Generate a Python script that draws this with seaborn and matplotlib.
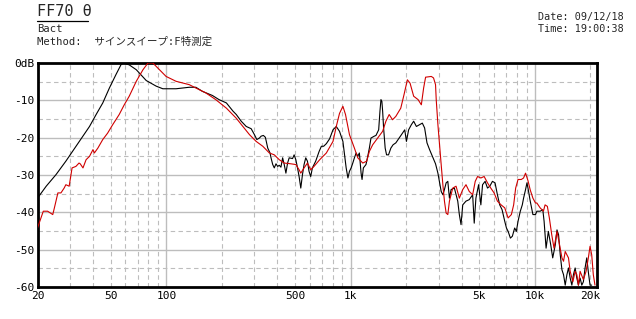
import matplotlib
matplotlib.use("Agg")
import matplotlib.pyplot as plt
from matplotlib.lines import Line2D
import seaborn as sns
import pandas as pd

# ---------------- data ----------------
black_freq = [20, 22.3, 25.2, 28.5, 29.7, 32.4, 35.3, 38.3, 41.6, 45.2, 49.1, 53.3, 56.7, 58.3,
              62.9, 68.7, 77.8, 88.1, 95.7, 112.9, 133.1, 144.6, 157, 177.8, 193, 211.8, 230,
              239.6, 254.9, 271.3, 288.6, 300.6, 309.7, 319.9, 326.7, 336.1, 344.6, 355, 365.2,
              369.8, 377.7, 385.2, 393.4, 401.8, 409.8, 418.5, 427.5, 436.1, 445.3, 454.8, 464,
              483.9, 493.6, 504.1, 514.9, 525.1, 536.3, 547.7, 558.7, 570.6, 582.8, 594.4, 607,
              620, 646, 674.3, 693.7, 713.8, 738.1, 768.9, 802, 835.5, 870, 907.7, 926.6, 945.4,
              966.4, 985.2, 1006, 1027, 1048, 1071, 1093, 1115, 1139, 1153, 1172, 1211, 1238,
              1263, 1289, 1343, 1372, 1419, 1442, 1460, 1477, 1491, 1509, 1539, 1566, 1605, 1652,
              1699, 1758, 1831, 1910, 1965, 2007, 2063, 2136, 2197, 2273, 2368, 2448, 2519, 2595,
              2680, 2796, 2887, 2974, 3098, 3164, 3227, 3296, 3366, 3434, 3507, 3653, 3811, 3887,
              3970, 4055, 4224, 4399, 4590, 4681, 4781, 4944, 5086, 5195, 5364, 5526, 5687, 5879,
              6071, 6255, 6437, 6630, 6854, 7002, 7149, 7356, 7539, 7758, 7924, 8092, 8325, 8534,
              8672, 8889, 9046, 9193, 9424, 9744, 10062, 10238, 10664, 11026, 11206, 11486, 11818,
              12174, 12480, 12888, 13163, 13426, 13712, 14003, 14285, 14589, 14900, 15197, 15521,
              15852, 16169, 16514, 16865, 17203, 17570, 17945, 18304, 18694, 19093, 19476, 19891,
              20314]
black_db = [-36.2, -33, -29.9, -26.3, -25, -22.3, -19.6, -17, -13.8, -10.7, -6.7, -3.1, -0.5, 0,
            -0.5, -1.8, -4.7, -6.2, -6.9, -6.9, -6.5, -6.5, -7.6, -8.7, -9.8, -10.7, -12.9,
            -13.8, -15.6, -17, -17.6, -19.2, -20.5, -20.1, -19.6, -19.4, -19.9, -22.8, -24.1,
            -25.4, -27.2, -28.1, -27, -27.7, -27.4, -27.9, -25.4, -27.2, -29.5, -26.8, -25.4,
            -25.6, -24.6, -25.9, -28.1, -30.4, -33.5, -29.9, -27.2, -25.4, -26.3, -29, -30.4,
            -28.1, -26.3, -23.7, -22.3, -22.3, -21.6, -20.3, -17.9, -17, -18.3, -21, -24.6,
            -28.1, -30.8, -29, -28.1, -26.8, -25.4, -24.1, -25, -24.1, -29.5, -31.2, -28.1,
            -27.2, -25, -22.8, -20.1, -19.6, -19.4, -17.9, -12.9, -9.8, -10.3, -12.9, -17.4,
            -22.8, -24.6, -24.6, -22.8, -21.9, -21.4, -20.1, -18.8, -17.9, -21, -17.9, -16.5,
            -15.6, -17, -16.5, -16.1, -17.4, -21.4, -23.2, -25.4, -27, -29.5, -34.4, -35.3,
            -33.9, -32.1, -31.7, -36.2, -33.9, -33.5, -37, -40.6, -43.3, -38, -37, -36.6, -35.3,
            -42.9, -36.2, -32.6, -38, -32.6, -31.7, -33.5, -33, -31.7, -32.1, -35.3, -38, -39.3,
            -42.4, -44.2, -45.1, -46.9, -46.4, -44.2, -45.1, -42.4, -39.7, -38, -36.2, -33.9,
            -32.1, -33.9, -37, -40.6, -40.6, -39.7, -39.7, -39.3, -42.4, -49.6, -45.1, -48.7,
            -52.2, -48.7, -44.7, -46, -51.4, -55.4, -56.7, -59.5, -56.7, -54.9, -57.6, -59.5,
            -56.7, -54.9, -57.6, -59.5, -57.6, -59.5, -58.6, -54.9, -52.2, -56, -59.5, -59.5]

red_freq = [20, 20.9, 21.5, 22.7, 24.2, 24.7, 25.8, 26.8, 27.9, 28.5, 29.7, 30.8, 32.3, 33.6,
            34.1, 35.3, 36.7, 38.3, 40, 40.7, 42.5, 45.2, 48, 51.2, 55.5, 59.1, 62.9, 67.3,
            68.7, 74.7, 79.5, 84.5, 91.8, 99.7, 112.9, 133.1, 144.6, 163.6, 185.3, 211.8, 239.6,
            260.4, 282.6, 307.1, 333.6, 362.1, 385.2, 409.8, 436.1, 473.8, 504.1, 525.1, 536.3,
            558.7, 582.8, 607, 632.5, 679.3, 738.1, 802, 835.5, 870, 907.7, 937.7, 985.2, 1048,
            1093, 1163, 1222, 1263, 1317, 1401, 1491, 1553, 1618, 1687, 1758, 1870, 1947, 2031,
            2100, 2197, 2321, 2418, 2488, 2550, 2738, 2816, 2887, 2912, 2974, 3034, 3098, 3164,
            3227, 3296, 3366, 3434, 3581, 3731, 3887, 4055, 4224, 4399, 4590, 4740, 4882, 5086,
            5299, 5526, 5756, 6000, 6255, 6548, 6854, 7149, 7445, 7661, 7856, 8092, 8429, 8672,
            8889, 9160, 9424, 9744, 10062, 10238, 10664, 11110, 11343, 11673, 11966, 12328,
            12684, 13163, 13593, 14003, 14285, 14589, 15197, 15521, 16052, 16514, 16865, 17203,
            17570, 18304, 18930, 19476, 19891, 20314, 20722, 21162]
red_db = [-44.2, -41.5, -39.7, -39.7, -40.6, -38.8, -34.8, -34.8, -33.5, -32.6, -33, -28.1,
          -27.7, -26.8, -27, -28.1, -25.9, -25, -23.2, -24.1, -22.8, -20.5, -18.8, -16.5, -13.8,
          -11.2, -8.9, -5.8, -4.9, -1.8, 0, 0, -1.8, -3.6, -4.9, -5.8, -6.7, -8, -9.8, -12.1,
          -14.8, -17, -19.2, -21, -22.3, -24.1, -24.6, -25.9, -26.8, -27, -27.2, -28.6, -29.5,
          -28.1, -26.8, -28.6, -27.7, -25.9, -24.1, -21, -17, -13.5, -11.6, -13.8, -19.2,
          -22.8, -25.4, -26.8, -26.3, -23.7, -21.9, -20.1, -18.3, -15.6, -13.8, -15.2, -14.3,
          -12.1, -8.5, -4.5, -5.4, -8.9, -9.8, -11.2, -6.7, -3.8, -3.6, -4, -5.8, -9.8, -16.5,
          -21.9, -27.2, -32.6, -37, -40.2, -40.6, -37, -33.5, -33, -36.2, -33.9, -32.6, -34.4,
          -35.3, -31.7, -30.4, -30.8, -30.4, -32.1, -33.5, -34.8, -37, -38, -38.8, -41.5,
          -40.6, -38, -33.5, -31.2, -31.2, -30.8, -29.5, -31.5, -34, -36.2, -37.5, -37.5,
          -38.8, -39.7, -38, -38.4, -41.5, -46, -49.6, -45.1, -48.7, -52.2, -53.1, -50.5,
          -52.2, -55.8, -58.6, -55.8, -56.7, -59.5, -55.8, -58, -55.8, -52.2, -49.1, -51.4,
          -56.7, -59.5]

x_tick_vals = [20, 50, 100, 500, 1000, 5000, 10000, 20000]
x_tick_labels = ["20", "50", "100", "500", "1k", "5k", "10k", "20k"]
y_tick_vals = [0, -10, -20, -30, -40, -50, -60]
y_tick_labels = ["0dB", "-10", "-20", "-30", "-40", "-50", "-60"]

title_text = "FF70 θ"
sub_text = "Bact"
method_text = "Method:  サインスイープ:F特測定"
date_text = "Date: 09/12/18"
time_text = "Time: 19:00:38"

# ---------------- style ----------------
sns.set_style("white")
MONO = ["DejaVu Sans Mono", "Noto Sans CJK JP"]
plt.rcParams["font.family"] = MONO

W, H = 636, 319
fig = plt.figure(figsize=(W / 100, H / 100), dpi=100)
ax = fig.add_axes([37.5 / W, (H - 287) / H, (597 - 37.5) / W, 224 / H])

df_b = pd.DataFrame({"freq": black_freq, "db": black_db})
df_r = pd.DataFrame({"freq": red_freq, "db": red_db})

sns.lineplot(data=df_b, x="freq", y="db", ax=ax, color="black", lw=0.8,
             estimator=None, sort=False, zorder=3)
sns.lineplot(data=df_r, x="freq", y="db", ax=ax, color="#d00000", lw=0.8,
             estimator=None, sort=False, zorder=4)

ax.set_xscale("log")
ax.set_xlim(20, 21700)
ax.set_ylim(-60, 0)

grid_col = "#bdbdbd"
minor_x = [30, 40, 50, 60, 70, 80, 90, 200, 300, 400, 500, 600, 700, 800, 900,
           2000, 3000, 4000, 5000, 6000, 7000, 8000, 9000, 20000]
for f in minor_x:
    ax.axvline(f, color=grid_col, lw=0.8, ls=(0, (4, 3)), zorder=1)
for f in [100, 1000, 10000]:
    ax.axvline(f, color=grid_col, lw=1.0, zorder=1)
for v in [-5, -15, -25, -35, -45, -55]:
    ax.axhline(v, color=grid_col, lw=0.8, ls=(0, (4, 3)), zorder=1)
for v in [-10, -20, -30, -40, -50]:
    ax.axhline(v, color=grid_col, lw=1.0, zorder=1)

ax.set_xticks(x_tick_vals)
ax.set_xticklabels(x_tick_labels)
ax.xaxis.set_minor_locator(matplotlib.ticker.NullLocator())
ax.set_yticks(y_tick_vals)
ax.set_yticklabels(y_tick_labels)
ax.tick_params(axis="both", which="major", labelsize=8, length=0, colors="black")
ax.tick_params(axis="x", pad=3)
ax.tick_params(axis="y", pad=2)
ax.set_xlabel("")
ax.set_ylabel("")
for s in ax.spines.values():
    s.set_color("black")
    s.set_linewidth(2.0)
    s.set_visible(True)

# ---------------- header texts ----------------
def fy(py):
    return 1 - py / H

fig.text(37 / W, fy(12), title_text, fontsize=11, va="center", ha="left")
fig.add_artist(Line2D([37 / W, 88 / W], [fy(20.5), fy(20.5)], color="black", lw=0.9))
fig.text(37 / W, fy(29), sub_text, fontsize=7.6, va="center", ha="left")
fig.text(37 / W, fy(42), method_text, fontsize=7.6, va="center", ha="left")
fig.text(538 / W, fy(17), date_text, fontsize=7.3, va="center", ha="left")
fig.text(538 / W, fy(29), time_text, fontsize=7.3, va="center", ha="left")

fig.savefig("out.png", dpi=100, facecolor="white")
